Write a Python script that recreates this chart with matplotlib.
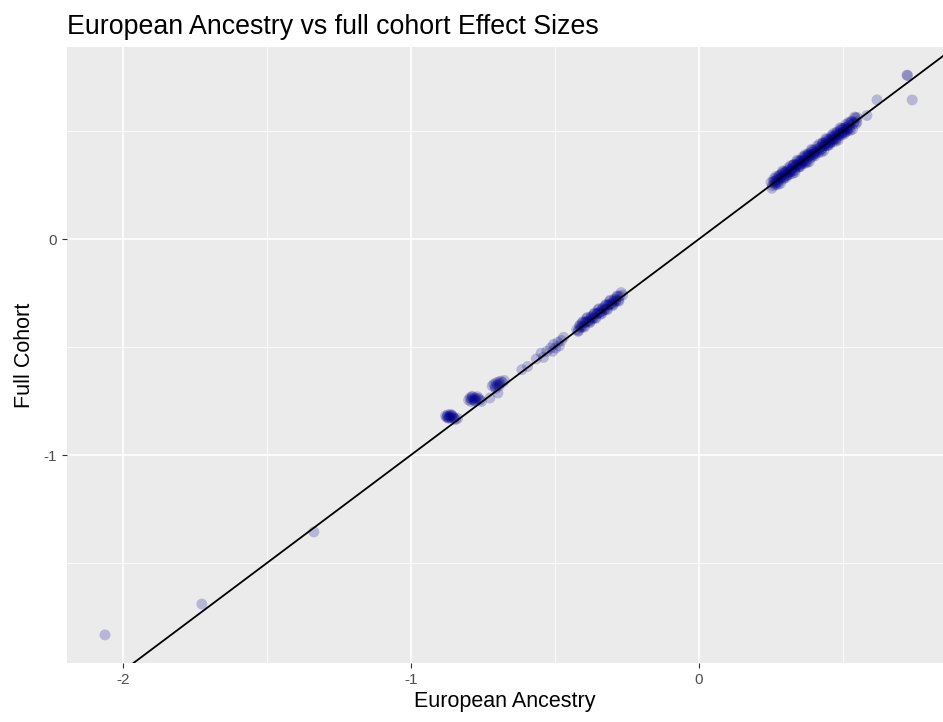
# Scatter of effect sizes: European ancestry vs full cohort, with identity line

import numpy as np
import matplotlib.pyplot as plt

# -------- data ----------------------------------------

# outliers (the top one is two overlapping points)
out_x = [-2.062, -1.726, -1.337, 0.722, 0.724, 0.740, 0.618, 0.583]
out_y = [-1.833, -1.690, -1.356, 0.759, 0.757, 0.644, 0.644, 0.572]

# cluster around -0.86
a_x = [-0.880, -0.876, -0.872, -0.868, -0.864, -0.860, -0.856, -0.852,
       -0.870, -0.862, -0.874, -0.858, -0.866, -0.850, -0.845, -0.838]
a_y = [-0.818, -0.826, -0.814, -0.824, -0.818, -0.828, -0.820, -0.826,
       -0.830, -0.812, -0.822, -0.816, -0.828, -0.832, -0.836, -0.830]

# cluster around -0.78
b_x = [-0.800, -0.795, -0.790, -0.786, -0.782, -0.778, -0.774, -0.770,
       -0.792, -0.780, -0.788, -0.776, -0.765, -0.760, -0.755, -0.726]
b_y = [-0.745, -0.735, -0.742, -0.732, -0.744, -0.736, -0.740, -0.730,
       -0.752, -0.750, -0.728, -0.748, -0.738, -0.745, -0.752, -0.736]

# cluster around -0.70
c_x = [-0.718, -0.712, -0.708, -0.704, -0.700, -0.696, -0.692, -0.688,
       -0.682, -0.676, -0.706, -0.694, -0.698]
c_y = [-0.680, -0.672, -0.684, -0.666, -0.676, -0.662, -0.670, -0.658,
       -0.664, -0.655, -0.692, -0.680, -0.713]

# scattered points between -0.62 and -0.47
s_x = [-0.615, -0.595, -0.565, -0.548, -0.540, -0.528, -0.515, -0.505,
       -0.498, -0.490, -0.485, -0.478, -0.508, -0.470]
s_y = [-0.605, -0.590, -0.555, -0.528, -0.548, -0.520, -0.505, -0.488,
       -0.505, -0.478, -0.495, -0.470, -0.520, -0.455]

# dense band between -0.43 and -0.26
m_x = [-0.425, -0.420, -0.415, -0.410, -0.405, -0.400, -0.395, -0.390, -0.385, -0.380,
       -0.375, -0.370, -0.365, -0.360, -0.355, -0.350, -0.345, -0.340, -0.335, -0.330,
       -0.325, -0.320, -0.315, -0.310, -0.305, -0.300, -0.295, -0.290, -0.285, -0.280,
       -0.275, -0.270, -0.265,
       -0.418, -0.413, -0.408, -0.403, -0.398, -0.393, -0.388, -0.383, -0.378, -0.373,
       -0.368, -0.363, -0.358, -0.353, -0.348, -0.343, -0.338, -0.333, -0.328, -0.323,
       -0.318, -0.313, -0.308, -0.303, -0.298, -0.293, -0.288, -0.283, -0.278]
m_y = [-0.420, -0.428, -0.403, -0.410, -0.387, -0.404, -0.385, -0.368, -0.380, -0.388,
       -0.363, -0.370, -0.347, -0.364, -0.345, -0.328, -0.340, -0.348, -0.323, -0.330,
       -0.307, -0.324, -0.305, -0.288, -0.300, -0.308, -0.283, -0.290, -0.267, -0.284,
       -0.265, -0.248, -0.260,
       -0.424, -0.398, -0.406, -0.383, -0.408, -0.385, -0.363, -0.379, -0.384, -0.358,
       -0.366, -0.343, -0.368, -0.345, -0.323, -0.339, -0.344, -0.318, -0.326, -0.303,
       -0.328, -0.305, -0.283, -0.299, -0.304, -0.278, -0.286, -0.263, -0.288]

# dense band between 0.25 and 0.55
u_x = [0.250, 0.255, 0.260, 0.265, 0.270, 0.275, 0.280, 0.285, 0.290, 0.295,
       0.300, 0.305, 0.310, 0.315, 0.320, 0.325, 0.330, 0.335, 0.340, 0.345,
       0.350, 0.355, 0.360, 0.365, 0.370, 0.375, 0.380, 0.385, 0.390, 0.395,
       0.400, 0.405, 0.410, 0.415, 0.420, 0.425, 0.430, 0.435, 0.440, 0.445,
       0.450, 0.455, 0.460, 0.465, 0.470, 0.475, 0.480, 0.485, 0.490, 0.495,
       0.500, 0.505, 0.510, 0.515, 0.520, 0.525, 0.530, 0.535, 0.540, 0.545, 0.550,
       0.253, 0.258, 0.263, 0.268, 0.273, 0.278, 0.283, 0.288, 0.293, 0.298,
       0.303, 0.308, 0.313, 0.318, 0.323, 0.328, 0.333, 0.338, 0.343, 0.348,
       0.353, 0.358, 0.363, 0.368, 0.373, 0.378, 0.383, 0.388, 0.393, 0.398,
       0.403, 0.408, 0.413, 0.418, 0.423, 0.428, 0.433, 0.438, 0.443, 0.448,
       0.453, 0.458, 0.463, 0.468, 0.473, 0.478, 0.483, 0.488, 0.493, 0.498,
       0.503, 0.508, 0.513, 0.518, 0.523, 0.528, 0.533, 0.538, 0.543, 0.548,
       0.262, 0.267, 0.272, 0.277, 0.282, 0.287, 0.292, 0.297, 0.302, 0.307,
       0.312, 0.317, 0.322, 0.327, 0.332, 0.337, 0.342, 0.347, 0.352, 0.357,
       0.362, 0.367, 0.372, 0.377, 0.382, 0.387, 0.392, 0.397, 0.402,
       0.422, 0.427, 0.432, 0.437, 0.442, 0.447, 0.452, 0.457, 0.462, 0.467,
       0.472, 0.477, 0.482, 0.487, 0.492, 0.497, 0.502, 0.507, 0.512, 0.517, 0.522]
u_y = [0.262, 0.247, 0.280, 0.250, 0.274, 0.253, 0.296, 0.283, 0.315, 0.283,
       0.312, 0.297, 0.330, 0.300, 0.324, 0.303, 0.346, 0.333, 0.365, 0.333,
       0.362, 0.347, 0.380, 0.350, 0.374, 0.353, 0.396, 0.383, 0.415, 0.383,
       0.412, 0.397, 0.430, 0.400, 0.424, 0.403, 0.446, 0.433, 0.465, 0.433,
       0.462, 0.447, 0.480, 0.450, 0.474, 0.453, 0.496, 0.483, 0.515, 0.483,
       0.512, 0.497, 0.530, 0.500, 0.524, 0.503, 0.546, 0.533, 0.565, 0.533, 0.562,
       0.235, 0.266, 0.259, 0.290, 0.263, 0.292, 0.258, 0.290, 0.311, 0.292,
       0.285, 0.316, 0.309, 0.340, 0.313, 0.342, 0.308, 0.340, 0.361, 0.342,
       0.335, 0.366, 0.359, 0.390, 0.363, 0.392, 0.358, 0.390, 0.411, 0.392,
       0.385, 0.416, 0.409, 0.440, 0.413, 0.442, 0.408, 0.440, 0.461, 0.442,
       0.435, 0.466, 0.459, 0.490, 0.463, 0.492, 0.458, 0.490, 0.511, 0.492,
       0.485, 0.516, 0.509, 0.540, 0.513, 0.542, 0.508, 0.540, 0.561, 0.542,
       0.267, 0.255, 0.282, 0.272, 0.282, 0.302, 0.277, 0.305, 0.307, 0.295,
       0.322, 0.312, 0.322, 0.342, 0.317, 0.345, 0.347, 0.335, 0.362, 0.352,
       0.362, 0.382, 0.357, 0.385, 0.387, 0.375, 0.402, 0.392, 0.402,
       0.425, 0.417, 0.444, 0.433, 0.450, 0.433, 0.455, 0.447, 0.474, 0.463,
       0.480, 0.463, 0.485, 0.477, 0.504, 0.493, 0.510, 0.493, 0.515, 0.507, 0.534]

x = np.array(out_x + a_x + b_x + c_x + s_x + m_x + u_x)
y = np.array(out_y + a_y + b_y + c_y + s_y + m_y + u_y)

# -------- plot --------------------

plt.rcParams['font.family'] = ['Liberation Sans', 'DejaVu Sans']

W, H = 943, 722
fig = plt.figure(figsize=(W/100, H/100), dpi=100)
ax = fig.add_axes([67/W, 1-663/H, (W-67)/W, (663-47)/H])
ax.set_facecolor('#EBEBEB')

ax.set_xlim(-2.194, 0.847)
ax.set_ylim(-1.963, 0.889)

# grid, ggplot style
for v in [-1.5, -0.5, 0.5]:
    ax.axvline(v, color='white', lw=0.6, zorder=0)
    ax.axhline(v, color='white', lw=0.6, zorder=0)
for v in [-2, -1, 0]:
    ax.axvline(v, color='white', lw=1.2, zorder=0)
for v in [-1, 0]:
    ax.axhline(v, color='white', lw=1.2, zorder=0)

ax.scatter(x, y, s=62, color='#00008B', alpha=0.22, edgecolors='none', zorder=2)

xl = np.array([-2.3, 1.0])
ax.plot(xl, xl, color='black', lw=1.3, zorder=3)

ax.set_xticks([-2, -1, 0])
ax.set_xticklabels(['-2', '-1', '0'])
ax.set_yticks([-1, 0])
ax.set_yticklabels(['-1', '0'])
ax.tick_params(colors='#333333', labelcolor='#4D4D4D', labelsize=11, length=3.5, width=0.8)
for s in ax.spines.values():
    s.set_visible(False)

ax.set_xlabel('European Ancestry', fontsize=15.5, color='black', labelpad=3)
ax.set_ylabel('Full Cohort', fontsize=15.5, color='black', labelpad=6)
fig.text(67/W, 1-34/H, 'European Ancestry vs full cohort Effect Sizes', fontsize=19.3,
         ha='left', va='baseline')

plt.savefig('out.png', dpi=100)
plt.close('all')
